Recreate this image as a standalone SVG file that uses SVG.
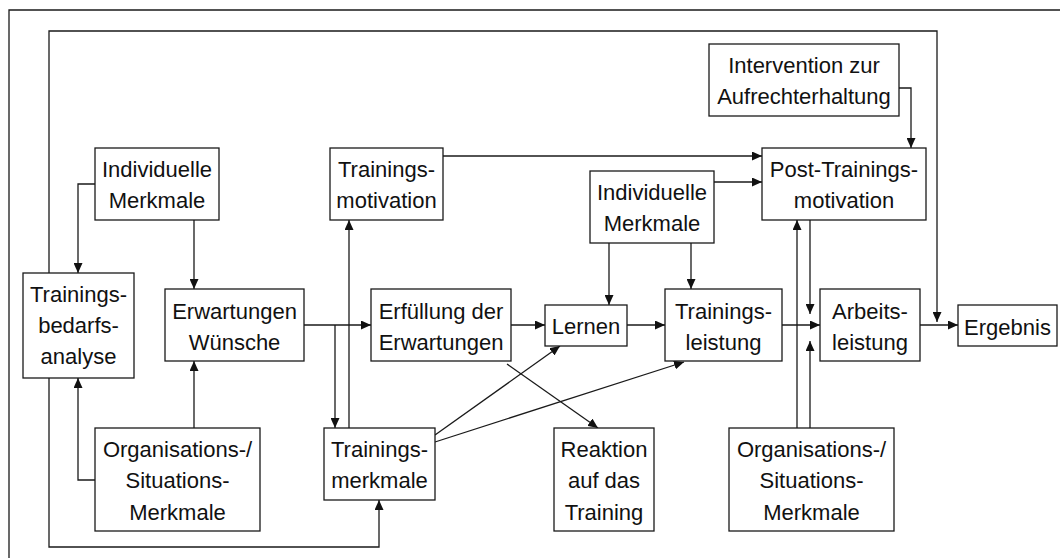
<svg xmlns="http://www.w3.org/2000/svg" width="1060" height="558" viewBox="0 0 1060 558">
<style>
.box{fill:#fff;stroke:#1a1a1a;stroke-width:1.3}
.t{font-family:"Liberation Sans",Arial,sans-serif;font-size:22px;fill:#111;text-anchor:middle}
.c{fill:none;stroke:#1a1a1a;stroke-width:1.3}
.a{marker-end:url(#arr)}
</style>
<defs>
<marker id="arr" markerUnits="userSpaceOnUse" markerWidth="10" markerHeight="9" refX="10" refY="4.5" orient="auto">
<path d="M0,0 L10,4.5 L0,9 z" fill="#111"/>
</marker>
</defs>
<rect width="1060" height="558" fill="#fff"/>
<path class="c" d="M9,558 V10 H1060"/>
<g id="connectors">
<path class="c a" d="M95,184 H78 V273"/>
<path class="c a" d="M194,220 V289"/>
<path class="c a" d="M95,480 H78 V378"/>
<path class="c a" d="M194,428 V361"/>
<path class="c a" d="M304,325 H371"/>
<path class="c a" d="M335,325 V428"/>
<path class="c a" d="M349,428 V220"/>
<path class="c a" d="M443,156 H762"/>
<path class="c a" d="M714,182 H762"/>
<path class="c a" d="M609,243 V305"/>
<path class="c a" d="M691,243 V289"/>
<path class="c a" d="M511,325 H545"/>
<path class="c a" d="M507,364 L598,428"/>
<path class="c a" d="M435,435 L560,346"/>
<path class="c a" d="M435,442 L684,362"/>
<path class="c a" d="M627,325 H665"/>
<path class="c a" d="M782,325 H820"/>
<path class="c a" d="M899,88 H911 V148"/>
<path class="c a" d="M810,220 V314"/>
<path class="c a" d="M797,428 V220"/>
<path class="c a" d="M810,428 V341"/>
<path class="c a" d="M920,325 H958"/>
<path class="c a" d="M49,273 V31 H937 V322"/>
<path class="c a" d="M49,378 V547 H379 V500"/>
</g>
<g id="im1"><rect class="box" x="95" y="148" width="124" height="72"/><text class="t" x="157" y="177">Individuelle</text><text class="t" x="157" y="208">Merkmale</text></g>
<g id="tba"><rect class="box" x="23" y="273" width="111" height="105"/><text class="t" x="78.5" y="302">Trainings-</text><text class="t" x="78.5" y="333">bedarfs-</text><text class="t" x="78.5" y="364">analyse</text></g>
<g id="erw"><rect class="box" x="165" y="289" width="139" height="72"/><text class="t" x="234.5" y="319">Erwartungen</text><text class="t" x="234.5" y="350">Wünsche</text></g>
<g id="org1"><rect class="box" x="95" y="428" width="165" height="103"/><text class="t" x="177.5" y="457">Organisations-/</text><text class="t" x="177.5" y="488">Situations-</text><text class="t" x="177.5" y="520">Merkmale</text></g>
<g id="tmot"><rect class="box" x="330" y="148" width="113" height="72"/><text class="t" x="386.5" y="177">Trainings-</text><text class="t" x="386.5" y="208">motivation</text></g>
<g id="tmerk"><rect class="box" x="324" y="428" width="111" height="72"/><text class="t" x="379.5" y="457">Trainings-</text><text class="t" x="379.5" y="488">merkmale</text></g>
<g id="erf"><rect class="box" x="371" y="289" width="140" height="72"/><text class="t" x="441" y="319">Erfüllung der</text><text class="t" x="441" y="350">Erwartungen</text></g>
<g id="lern"><rect class="box" x="545" y="305" width="82" height="41"/><text class="t" x="586" y="334">Lernen</text></g>
<g id="im2"><rect class="box" x="590" y="171" width="124" height="72"/><text class="t" x="652" y="200">Individuelle</text><text class="t" x="652" y="231">Merkmale</text></g>
<g id="reak"><rect class="box" x="554" y="428" width="100" height="103"/><text class="t" x="604" y="457">Reaktion</text><text class="t" x="604" y="488">auf das</text><text class="t" x="604" y="520">Training</text></g>
<g id="tleist"><rect class="box" x="665" y="289" width="117" height="72"/><text class="t" x="723.5" y="319">Trainings-</text><text class="t" x="723.5" y="350">leistung</text></g>
<g id="interv"><rect class="box" x="709" y="44" width="190" height="72"/><text class="t" x="804" y="73">Intervention zur</text><text class="t" x="804" y="104">Aufrechterhaltung</text></g>
<g id="ptm"><rect class="box" x="762" y="148" width="164" height="72"/><text class="t" x="844" y="177">Post-Trainings-</text><text class="t" x="844" y="208">motivation</text></g>
<g id="arb"><rect class="box" x="820" y="289" width="100" height="72"/><text class="t" x="870" y="319">Arbeits-</text><text class="t" x="870" y="350">leistung</text></g>
<g id="erg"><rect class="box" x="958" y="305" width="99" height="41"/><text class="t" x="1007.5" y="335">Ergebnis</text></g>
<g id="org2"><rect class="box" x="729" y="428" width="165" height="103"/><text class="t" x="811.5" y="457">Organisations-/</text><text class="t" x="811.5" y="488">Situations-</text><text class="t" x="811.5" y="520">Merkmale</text></g>
</svg>
